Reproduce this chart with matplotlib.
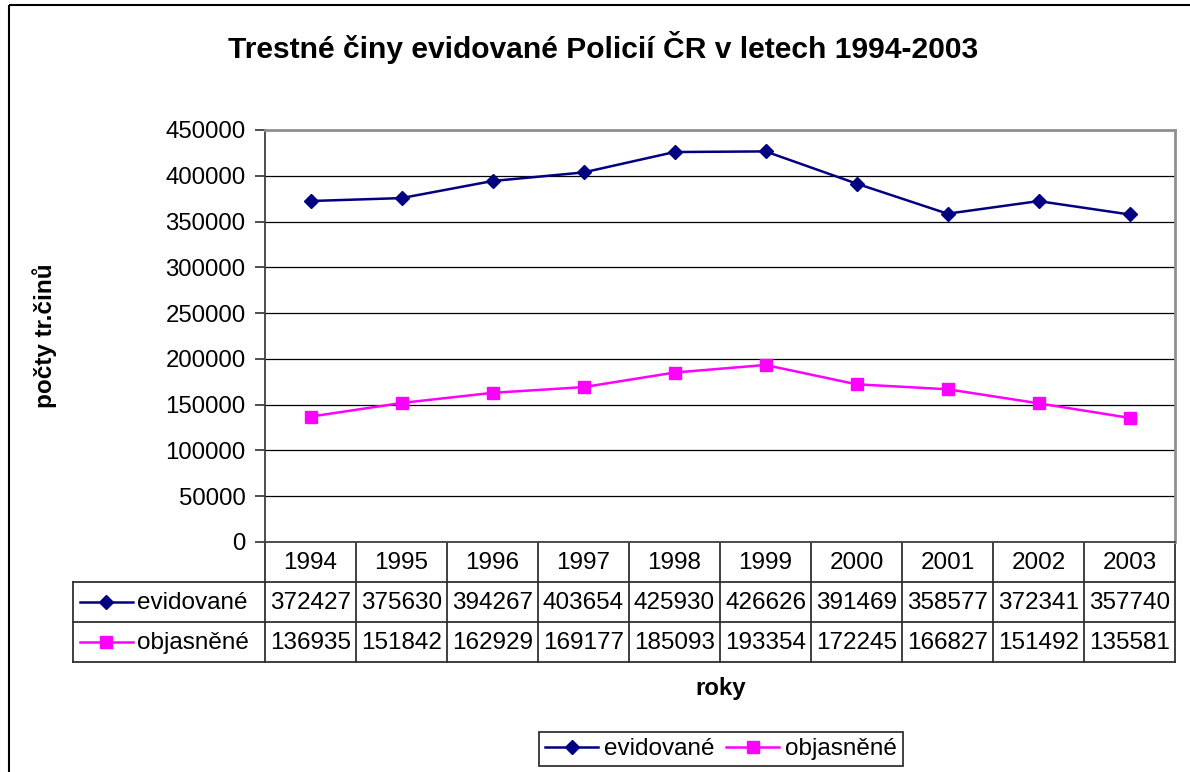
import matplotlib
matplotlib.use("Agg")
import matplotlib.pyplot as plt
import matplotlib.transforms as mtransforms
from matplotlib.lines import Line2D
from matplotlib.patches import Rectangle

plt.rcParams['font.family'] = ['Liberation Sans', 'DejaVu Sans']

years = ["1994", "1995", "1996", "1997", "1998", "1999", "2000", "2001", "2002", "2003"]
evidovane = [372427, 375630, 394267, 403654, 425930, 426626, 391469, 358577, 372341, 357740]
objasnene = [136935, 151842, 162929, 169177, 185093, 193354, 172245, 166827, 151492, 135581]
series_names = ["evidované", "objasněné"]
title = "Trestné činy evidované Policií ČR v letech 1994-2003"
ylabel = "počty tr.činů"
xlabel = "roky"
yticks = [0, 50000, 100000, 150000, 200000, 250000, 300000, 350000, 400000, 450000]

W, H = 1190, 772
fig = plt.figure(figsize=(W / 100, H / 100), dpi=100)

ov = fig.add_axes([0, 0, 1, 1], zorder=0)
ov.set_xlim(0, W)
ov.set_ylim(H, 0)
ov.axis('off')

L, R, T, B = 265, 1175, 130, 542
ax = fig.add_axes([L / W, (H - B) / H, (R - L) / W, (B - T) / H], zorder=1)
ax.set_facecolor('white')
x = list(range(len(years)))
navy = '#000080'
mag = '#FF00FF'
ax.plot(x, evidovane, color=navy, lw=1.8, marker='D', ms=7.5, mfc=navy, mec=navy, zorder=3)
ax.plot(x, objasnene, color=mag, lw=1.8, marker='s', ms=9, mfc=mag, mec=mag, zorder=3)
ax.set_xlim(-0.5, len(years) - 0.5)
ax.set_ylim(0, 450000)
ax.set_yticks(yticks)
ax.set_yticklabels([str(v) for v in yticks], fontsize=17.3)
ax.set_xticks([])
ax.yaxis.grid(True, color='black', lw=0.9)
ax.set_axisbelow(True)
for k, s in ax.spines.items():
    s.set_color('#909090')
    s.set_linewidth(2.0)
ax.spines['left'].set_color('#404040')
ax.spines['left'].set_linewidth(1.3)
ax.spines['bottom'].set_color('#404040')
ax.spines['bottom'].set_linewidth(1.3)
ax.tick_params(axis='y', length=7, width=1.3, color='#404040', pad=7)

# outer frame (right/bottom edges lie outside the image)
ov.add_patch(Rectangle((9, 5), 1400, 900, fill=False, ec='black', lw=1.5, zorder=0))

ov.text(603, 47, title, ha='center', va='center', fontsize=21.6, fontweight='bold')
ov.text(45, 336, ylabel, ha='center', va='center', rotation=90, fontsize=17.5, fontweight='bold')
ov.text(721, 688, xlabel, ha='center', va='center', fontsize=17.3, fontweight='bold')

# data table
bt = mtransforms.blended_transform_factory(ax.transData, ov.transData)
row_y = [542, 582, 622, 662]
lc = '#303030'
n = len(years)
edges = [i - 0.5 for i in range(n + 1)]
for e in edges:
    ov.add_line(Line2D([e, e], [row_y[0], row_y[3]], transform=bt, color=lc, lw=1.3, clip_on=False))
ov.add_line(Line2D([73, 73], [row_y[1], row_y[3]], color=lc, lw=1.3))
x_right = ax.transData.transform((edges[-1], 0))[0]
for yy in row_y[1:]:
    ov.add_line(Line2D([73, x_right], [yy, yy], color=lc, lw=1.3))
fs = 17.5
for i, yr in enumerate(years):
    ov.text(i, (row_y[0] + row_y[1]) / 2 + 1, yr, transform=bt, ha='center', va='center', fontsize=fs)
    ov.text(i, (row_y[1] + row_y[2]) / 2 + 1, str(evidovane[i]), transform=bt, ha='center', va='center', fontsize=fs)
    ov.text(i, (row_y[2] + row_y[3]) / 2 + 1, str(objasnene[i]), transform=bt, ha='center', va='center', fontsize=fs)

keys = [(navy, 'D', 7.5), (mag, 's', 9)]
for k, (c, m, ms) in enumerate(keys):
    yc = (row_y[k + 1] + row_y[k + 2]) / 2
    ov.add_line(Line2D([80, 133], [yc, yc], color=c, lw=1.8))
    ov.add_line(Line2D([106], [yc], color=c, marker=m, ms=ms, mfc=c, mec=c, lw=0))
    ov.text(137, yc + 1, series_names[k], ha='left', va='center', fontsize=fs)

# legend
leg_handles = [Line2D([], [], color=navy, lw=1.8, marker='D', ms=7.5),
               Line2D([], [], color=mag, lw=1.8, marker='s', ms=9)]
leg = fig.legend(leg_handles, series_names, loc='center', bbox_to_anchor=(721 / W, 1 - 749 / H),
                 ncol=2, fontsize=17.5, frameon=True, fancybox=False, edgecolor='black',
                 handlelength=2.2, handletextpad=0.25, columnspacing=0.45, borderpad=0.25,
                 borderaxespad=0)
leg.get_frame().set_linewidth(1.3)

fig.savefig('out.png', dpi=100, facecolor='white')
